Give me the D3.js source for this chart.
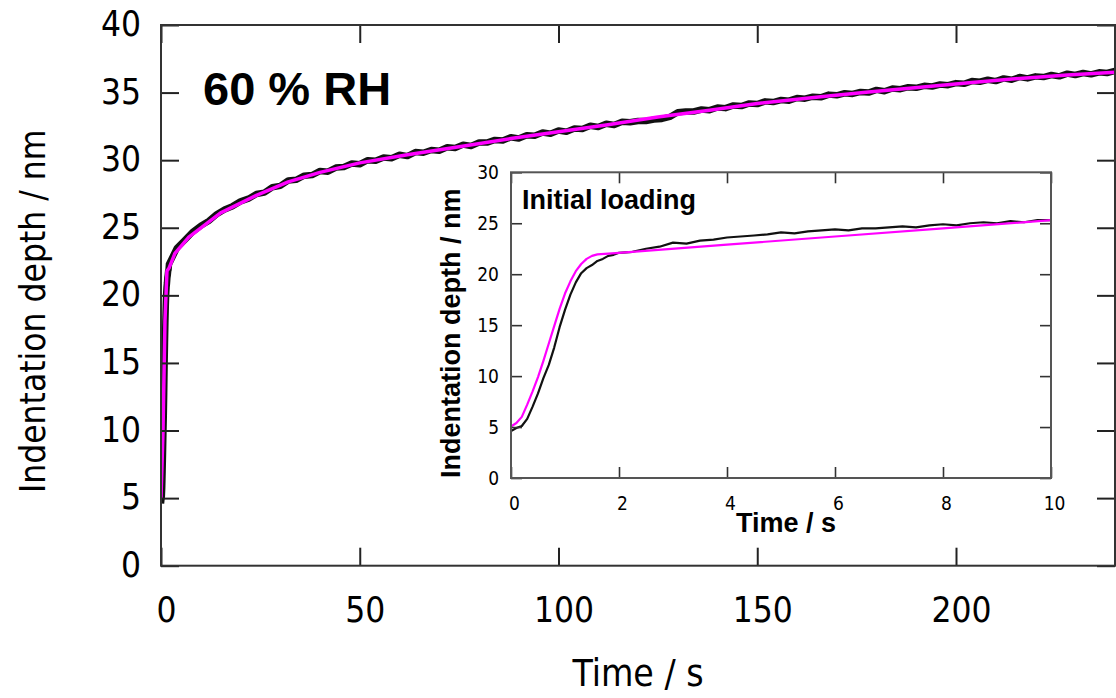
<!DOCTYPE html>
<html>
<head>
<meta charset="utf-8">
<script src="https://cdn.jsdelivr.net/npm/d3@7"></script>
<style>
  html, body { margin: 0; padding: 0; background: #fff; }
  svg { display: block; }
</style>
</head>
<body>
<svg id="chart" width="1116" height="698"></svg>
<script>
// ---------------- DATA ----------------
// Main panel tick values
const mainXTicks = [0, 50, 100, 150, 200];
const mainYTicks = [0, 5, 10, 15, 20, 25, 30, 35, 40];
// Inset tick values
const insetXTicks = [0, 2, 4, 6, 8, 10];
const insetYTicks = [0, 5, 10, 15, 20, 25, 30];

// Inset: measured indentation depth (black), time in s
const insetDataT = [0, 0.1, 0.2, 0.3, 0.4, 0.5, 0.6, 0.7, 0.8, 0.9, 1.0, 1.1, 1.2, 1.3, 1.4, 1.5, 1.6, 1.7, 1.8, 1.9, 2.0,
  2.25, 2.5, 2.75, 3.0, 3.25, 3.5, 3.75, 4.0, 4.25, 4.5, 4.75, 5.0, 5.25, 5.5, 5.75, 6.0, 6.25, 6.5, 6.75, 7.0,
  7.25, 7.5, 7.75, 8.0, 8.25, 8.5, 8.75, 9.0, 9.25, 9.5, 9.75, 10.0];
const insetDataD = [4.6, 4.9, 5.1, 5.8, 7.0, 8.3, 9.8, 11.1, 12.8, 14.8, 16.5, 18.0, 19.2, 20.1, 20.6, 20.9, 21.3, 21.5, 21.8, 21.9, 22.1,
  22.2, 22.5, 22.7, 23.1, 23.0, 23.3, 23.4, 23.6, 23.7, 23.8, 23.9, 24.1, 24.0, 24.2, 24.3, 24.4, 24.3, 24.5, 24.5, 24.6,
  24.7, 24.6, 24.8, 24.9, 24.8, 25.0, 25.1, 25.0, 25.2, 25.1, 25.3, 25.3];
// Inset: model fit (magenta)
const insetFitT = [0, 0.1, 0.2, 0.3, 0.4, 0.5, 0.6, 0.7, 0.8, 0.9, 1.0, 1.1, 1.2, 1.3, 1.4, 1.5, 1.6, 2, 4, 6, 8, 10];
const insetFitD = [5.05, 5.4, 6.0, 7.2, 8.5, 9.9, 11.5, 13.2, 14.9, 16.6, 18.1, 19.3, 20.3, 21.0, 21.5, 21.8, 21.95, 22.1, 22.9, 23.7, 24.5, 25.3];

// Main: measured depth (black) from t = 2 s to 240 s, every 2 s
const mainDataT = [2,4,6,8,10,12,14,16,18,20,22,24,26,28,30,32,34,36,38,40,42,44,46,48,50,52,54,56,58,60,
  62,64,66,68,70,72,74,76,78,80,82,84,86,88,90,92,94,96,98,100,102,104,106,108,110,112,114,116,118,120,
  122,124,126,128,130,132,134,136,138,140,142,144,146,148,150,152,154,156,158,160,162,164,166,168,170,172,174,176,178,180,
  182,184,186,188,190,192,194,196,198,200,202,204,206,208,210,212,214,216,218,220,222,224,226,228,230,232,234,236,238,240];
const mainDataD = [22.3,23.5,24.1,24.7,25.15,25.5,26.0,26.35,26.6,26.95,27.15,27.5,27.6,28.0,28.1,28.5,28.55,28.85,28.9,29.2,
  29.15,29.45,29.5,29.75,29.7,30.0,29.95,30.2,30.15,30.4,30.3,30.6,30.55,30.75,30.7,30.95,30.9,31.15,31.05,31.3,
  31.3,31.5,31.45,31.7,31.6,31.85,31.8,32.05,31.95,32.2,32.1,32.35,32.3,32.55,32.45,32.7,32.6,32.85,32.8,32.9,
  32.9,33.0,33.05,33.2,33.55,33.6,33.6,33.75,33.7,33.9,33.85,34.05,34.0,34.2,34.15,34.35,34.3,34.45,34.4,34.6,
  34.55,34.7,34.65,34.85,34.8,34.95,34.9,35.05,35.0,35.2,35.1,35.3,35.25,35.4,35.35,35.5,35.45,35.6,35.55,35.7,
  35.65,35.85,35.8,35.95,35.85,36.05,35.95,36.15,36.05,36.2,36.15,36.3,36.2,36.4,36.3,36.45,36.35,36.5,36.45,36.6];
// Main: model fit (magenta)
const mainFitT = [0, 0.5, 1.0, 1.5, 2, 3.5, 7, 15, 24, 32, 40, 50, 62, 75, 88, 100, 112, 125, 138, 150, 166, 178, 191, 204, 216, 228, 240];
const mainFitD = [5.0, 9.9, 18.1, 21.8, 22.0, 23.1, 24.3, 26.1, 27.4, 28.4, 29.1, 29.8, 30.4, 31.0, 31.6, 32.1, 32.6, 33.2, 33.7, 34.2, 34.7, 35.05, 35.4, 35.75, 36.05, 36.3, 36.5];

// ---------------- DRAW ----------------
const svg = d3.select("#chart");
const FONT = "'DejaVu Sans Condensed','DejaVu Sans',sans-serif";
const BOLD = "'Liberation Sans',Arial,sans-serif";

const zip = (a, b) => a.map((v, i) => [v, b[i]]);

// main scales
const x = d3.scaleLinear().domain([0, 240]).range([161, 1115]);
const y = d3.scaleLinear().domain([0, 40]).range([565.7, 25]);

const mainBlack = zip(insetDataT, insetDataD).filter(d => d[0] < 2).concat(zip(mainDataT, mainDataD));
const mainFit = zip(mainFitT, mainFitD);

const gMain = svg.append("g");

svg.append("clipPath").attr("id", "clipMain")
  .append("rect").attr("x", 161).attr("y", 25).attr("width", 954).attr("height", 540.7);

const line = d3.line().x(d => x(d[0])).y(d => y(d[1]));

gMain.append("path").datum(mainBlack)
  .attr("clip-path", "url(#clipMain)")
  .attr("d", line).attr("fill", "none").attr("stroke", "#111")
  .attr("stroke-width", 6.5).attr("stroke-linejoin", "round");
gMain.append("path").datum(mainFit)
  .attr("clip-path", "url(#clipMain)")
  .attr("d", line).attr("fill", "none").attr("stroke", "#ff00ff")
  .attr("stroke-width", 3.5).attr("stroke-linejoin", "round");

// main axes (inward ticks)
const TL = 18;
const axB = gMain.append("g").attr("transform", `translate(0,${y(0)})`)
  .call(d3.axisBottom(x).tickValues(mainXTicks).tickSizeInner(-TL).tickSizeOuter(0).tickPadding(31.5));
const axL = gMain.append("g").attr("transform", `translate(${x(0)},0)`)
  .call(d3.axisLeft(y).tickValues(mainYTicks).tickSizeInner(-TL).tickSizeOuter(0).tickPadding(20));
const axT = gMain.append("g").attr("transform", `translate(0,${y(40)})`)
  .call(d3.axisTop(x).tickValues(mainXTicks).tickSizeInner(-TL).tickSizeOuter(0).tickFormat(""));
const axR = gMain.append("g").attr("transform", `translate(${x(240)},0)`)
  .call(d3.axisRight(y).tickValues(mainYTicks).tickSizeInner(-TL).tickSizeOuter(0).tickFormat(""));
[axB, axL, axT, axR].forEach(a => {
  a.select(".domain").remove();
  a.selectAll(".tick line").attr("stroke", "#222").attr("stroke-width", 2);
  a.selectAll("text").attr("font-family", FONT).attr("font-size", 35).attr("fill", "#000");
});
axB.selectAll("text").attr("dx", 5);
axL.selectAll("text").attr("dy", "0.3em");

gMain.append("rect").attr("x", x(0)).attr("y", y(40))
  .attr("width", x(240) - x(0)).attr("height", y(0) - y(40))
  .attr("fill", "none").attr("stroke", "#333").attr("stroke-width", 2);

// main titles
gMain.append("text").attr("x", 638).attr("y", 686).attr("text-anchor", "middle")
  .attr("font-family", FONT).attr("font-size", 37).attr("fill", "#000").text("Time / s");
gMain.append("text").attr("transform", "translate(45,493) rotate(-90)").attr("text-anchor", "start")
  .attr("font-family", FONT).attr("font-size", 35).attr("fill", "#000").text("Indentation depth / nm");
gMain.append("text").attr("x", 203).attr("y", 105)
  .attr("font-family", BOLD).attr("font-weight", "bold").attr("font-size", 47).attr("fill", "#000").text("60 % RH");

// ---------------- INSET ----------------
const xi = d3.scaleLinear().domain([0, 10]).range([511, 1051]);
const yi = d3.scaleLinear().domain([0, 30]).range([478, 172.3]);
const gIn = svg.append("g");
gIn.append("rect").attr("x", xi(0)).attr("y", yi(30)).attr("width", xi(10) - xi(0)).attr("height", yi(0) - yi(30))
  .attr("fill", "#fff");

const lineI = d3.line().x(d => xi(d[0])).y(d => yi(d[1]));
gIn.append("path").datum(zip(insetDataT, insetDataD))
  .attr("d", lineI).attr("fill", "none").attr("stroke", "#111").attr("stroke-width", 2.2).attr("stroke-linejoin", "round");
gIn.append("path").datum(zip(insetFitT, insetFitD))
  .attr("d", lineI).attr("fill", "none").attr("stroke", "#ff00ff").attr("stroke-width", 2.2).attr("stroke-linejoin", "round");

const TLi = 11;
const iB = gIn.append("g").attr("transform", `translate(0,${yi(0)})`)
  .call(d3.axisBottom(xi).tickValues(insetXTicks).tickSizeInner(-TLi).tickSizeOuter(0).tickPadding(18.5));
const iL = gIn.append("g").attr("transform", `translate(${xi(0)},0)`)
  .call(d3.axisLeft(yi).tickValues(insetYTicks).tickSizeInner(-TLi).tickSizeOuter(0).tickPadding(12));
const iT = gIn.append("g").attr("transform", `translate(0,${yi(30)})`)
  .call(d3.axisTop(xi).tickValues(insetXTicks).tickSizeInner(-TLi).tickSizeOuter(0).tickFormat(""));
const iR = gIn.append("g").attr("transform", `translate(${xi(10)},0)`)
  .call(d3.axisRight(yi).tickValues(insetYTicks).tickSizeInner(-TLi).tickSizeOuter(0).tickFormat(""));
[iB, iL, iT, iR].forEach(a => {
  a.select(".domain").remove();
  a.selectAll(".tick line").attr("stroke", "#333").attr("stroke-width", 1.6);
  a.selectAll("text").attr("font-family", FONT).attr("font-size", 19).attr("fill", "#000");
});
iB.selectAll("text").attr("dx", 3);

gIn.append("rect").attr("x", xi(0)).attr("y", yi(30)).attr("width", xi(10) - xi(0)).attr("height", yi(0) - yi(30))
  .attr("fill", "none").attr("stroke", "#555").attr("stroke-width", 2);

gIn.append("text").attr("x", 522).attr("y", 209)
  .attr("font-family", BOLD).attr("font-weight", "bold").attr("font-size", 27).attr("fill", "#000").text("Initial loading");
gIn.append("text").attr("x", 786).attr("y", 532).attr("text-anchor", "middle")
  .attr("font-family", BOLD).attr("font-weight", "bold").attr("font-size", 27).attr("fill", "#000").text("Time / s");
gIn.append("text").attr("transform", "translate(460,478) rotate(-90)").attr("text-anchor", "start")
  .attr("font-family", BOLD).attr("font-weight", "bold").attr("font-size", 27).attr("fill", "#000").text("Indentation depth / nm");
</script>
</body>
</html>
